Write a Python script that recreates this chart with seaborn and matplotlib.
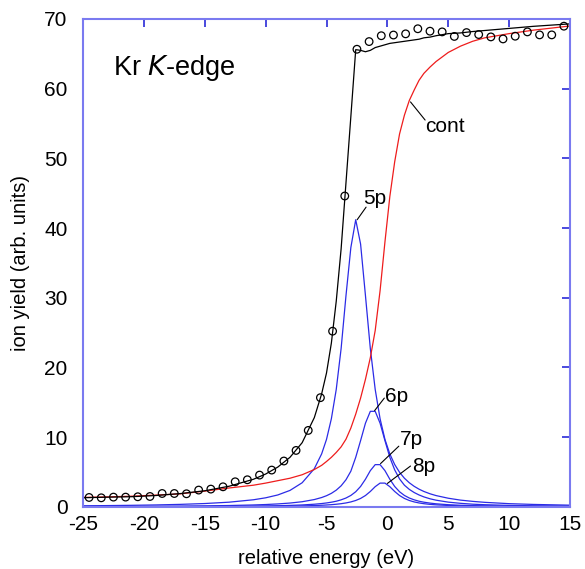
import numpy as np
import pandas as pd
import seaborn as sns
import matplotlib
matplotlib.use("Agg")
import matplotlib.pyplot as plt

# measured ion yield (open circles)
x_meas = [-24.5, -23.5, -22.5, -21.5, -20.5, -19.5, -18.5, -17.5, -16.5, -15.5,
          -14.5, -13.5, -12.5, -11.5, -10.5, -9.5, -8.5, -7.5, -6.5, -5.5,
          -4.5, -3.5, -2.5, -1.5, -0.5, 0.5, 1.5, 2.5, 3.5, 4.5,
          5.5, 6.5, 7.5, 8.5, 9.5, 10.5, 11.5, 12.5, 13.5, 14.5]
y_meas = [1.34, 1.29, 1.39, 1.39, 1.44, 1.48, 1.91, 1.91, 1.87, 2.40,
          2.54, 2.87, 3.59, 3.88, 4.55, 5.27, 6.57, 8.09, 10.96, 15.66,
          25.2, 44.6, 65.66, 66.76, 67.6, 67.7, 67.87, 68.6, 68.25, 68.15,
          67.5, 68.05, 67.77, 67.43, 67.14, 67.53, 68.15, 67.72, 67.72, 68.97]

# energy grid of the model curves
x_fit = [-25, -23, -21, -19, -17, -15, -13, -11, -10, -9, -8, -7, -6, -5.4, -5.0,
         -4.6, -4.2, -3.8, -3.4, -3.0, -2.6, -2.2, -1.8, -1.4, -1.0, -0.6, -0.2,
         0.2, 0.6, 1.0, 1.4, 1.8, 2.2, 2.6, 3.0, 3.5, 4, 5, 6, 7, 8, 10, 12, 15]

total = [1.30, 1.38, 1.45, 1.62, 1.90, 2.30, 2.95, 3.95, 4.70, 5.70, 7.10, 9.20, 12.8, 16.2, 19.2,
         23.5, 29.5, 37.0, 46.5, 56.0, 65.6, 65.5, 65.3, 65.5, 65.9, 66.1, 66.3,
         66.5, 66.6, 66.7, 66.8, 66.9, 67.0, 67.1, 67.3, 67.4, 67.6, 67.9, 68.0, 68.2, 68.35, 68.65, 68.95, 69.3]

cont = [1.35, 1.42, 1.52, 1.68, 1.86, 2.25, 2.7, 3.1, 3.4, 3.75, 4.1, 4.6, 5.35, 5.95, 6.5,
        7.1, 7.8, 8.6, 9.7, 11.3, 13.3, 15.6, 18.3, 21.4, 25.3, 31.0, 38.0,
        44.5, 49.5, 53.5, 56.2, 58.3, 59.8, 61.2, 62.2, 63.1, 63.9, 65.2, 66.1, 66.8, 67.3, 67.9, 68.4, 69.0]

p5 = [0.145, 0.174, 0.214, 0.269, 0.349, 0.469, 0.663, 1.01, 1.29, 1.70, 2.35, 3.45, 5.47, 7.59, 9.67,
      12.64, 16.84, 22.7, 30.3, 37.2, 41.2, 37.7, 30.3, 22.7, 16.84, 12.64, 9.67,
      7.59, 6.07, 4.95, 4.10, 3.45, 2.94, 2.53, 2.20, 1.87, 1.61, 1.23, 0.96, 0.78, 0.64, 0.45, 0.34, 0.234]

p6 = [0.046, 0.054, 0.066, 0.081, 0.103, 0.135, 0.183, 0.264, 0.326, 0.413, 0.538, 0.728, 1.04, 1.33, 1.59,
      1.93, 2.39, 3.01, 3.88, 5.11, 7.1, 9.5, 12.0, 13.7, 13.7, 12.0, 9.5,
      7.1, 5.3, 4.0, 3.1, 2.5, 2.05, 1.7, 1.42, 1.15, 0.95, 0.67, 0.5, 0.375, 0.30, 0.20, 0.147, 0.098]

p7 = [0.018, 0.0215, 0.026, 0.032, 0.040, 0.052, 0.071, 0.10, 0.123, 0.154, 0.199, 0.266, 0.371, 0.467, 0.551,
      0.66, 0.80, 1.0, 1.26, 1.63, 2.16, 2.92, 3.96, 5.19, 6.05, 6.05, 5.19,
      3.96, 2.92, 2.16, 1.63, 1.26, 1.0, 0.80, 0.66, 0.53, 0.43, 0.30, 0.22, 0.17, 0.135, 0.09, 0.064, 0.042]

p8 = [0.0098, 0.0116, 0.0139, 0.017, 0.0213, 0.0275, 0.037, 0.052, 0.063, 0.078, 0.0995, 0.131, 0.179, 0.222, 0.259,
      0.306, 0.367, 0.446, 0.553, 0.70, 0.907, 1.20, 1.62, 2.20, 2.89, 3.4, 3.4,
      2.89, 2.20, 1.62, 1.20, 0.907, 0.70, 0.553, 0.446, 0.35, 0.281, 0.192, 0.139, 0.105, 0.082, 0.054, 0.038, 0.0244]

sns.set_style("white")
plt.rcParams['font.family'] = ['Liberation Sans', 'DejaVu Sans']
plt.rcParams['axes.unicode_minus'] = False
plt.rcParams['text.color'] = 'black'
plt.rcParams['axes.labelcolor'] = 'black'
plt.rcParams['xtick.labelcolor'] = 'black'
plt.rcParams['ytick.labelcolor'] = 'black'

fig = plt.figure(figsize=(5.85, 5.69), dpi=100)
ax = fig.add_axes([83/585, 1-506.8/569, (570-83)/585, (506.8-19)/569])

blue = '#2b2be6'
for yy in [p5, p6, p7, p8]:
    sns.lineplot(x=x_fit, y=yy, ax=ax, color=blue, lw=0.9, estimator=None, sort=False)
sns.lineplot(x=x_fit, y=cont, ax=ax, color='#ee1c1c', lw=0.9, estimator=None, sort=False)
sns.lineplot(x=x_fit, y=total, ax=ax, color='black', lw=0.9, estimator=None, sort=False)
sns.scatterplot(x=x_meas, y=y_meas, ax=ax, marker='o', s=30, facecolors='none',
                edgecolor='black', linewidth=0.9, zorder=5)

ax.set_xlim(-25, 15)
ax.set_ylim(0, 70)
ax.set_xticks(range(-25, 16, 5))
ax.set_yticks(range(0, 71, 10))
for s in ax.spines.values():
    s.set_color('#7a7af0')
    s.set_linewidth(1.5)
ax.tick_params(direction='in', length=6, width=1.2, color='#2a2ad8',
               labelcolor='black', top=True, right=True, labelsize=15)
ax.tick_params(axis='x', pad=6)
ax.tick_params(axis='y', pad=11)
ax.set_xlabel('relative energy (eV)', fontsize=14.5, labelpad=11, color='black')
ax.set_ylabel('ion yield (arb. units)', fontsize=14.5, labelpad=10, color='black')

ax.text(-22.5, 61.9, 'Kr $\\mathit{K}$-edge', fontsize=19.5, color='black')

# peak labels with leader lines
ax.plot([1.9, 3.1], [58.1, 55.5], color='black', lw=0.8)
ax.text(3.14, 53.8, 'cont', fontsize=15, color='black')
ax.plot([-2.48, -1.75], [41.2, 43.0], color='black', lw=0.8)
ax.text(-1.95, 43.4, '5p', fontsize=15, color='black')
ax.plot([-1.05, -0.25], [13.8, 15.6], color='black', lw=0.8)
ax.text(-0.2, 15.1, '6p', fontsize=15, color='black')
ax.plot([-0.56, 0.94], [6.2, 8.7], color='black', lw=0.8)
ax.text(1.0, 8.9, '7p', fontsize=15, color='black')
ax.plot([0.0, 1.9], [3.35, 5.85], color='black', lw=0.8)
ax.text(2.05, 5.05, '8p', fontsize=15, color='black')

fig.savefig('out.png', dpi=100)
